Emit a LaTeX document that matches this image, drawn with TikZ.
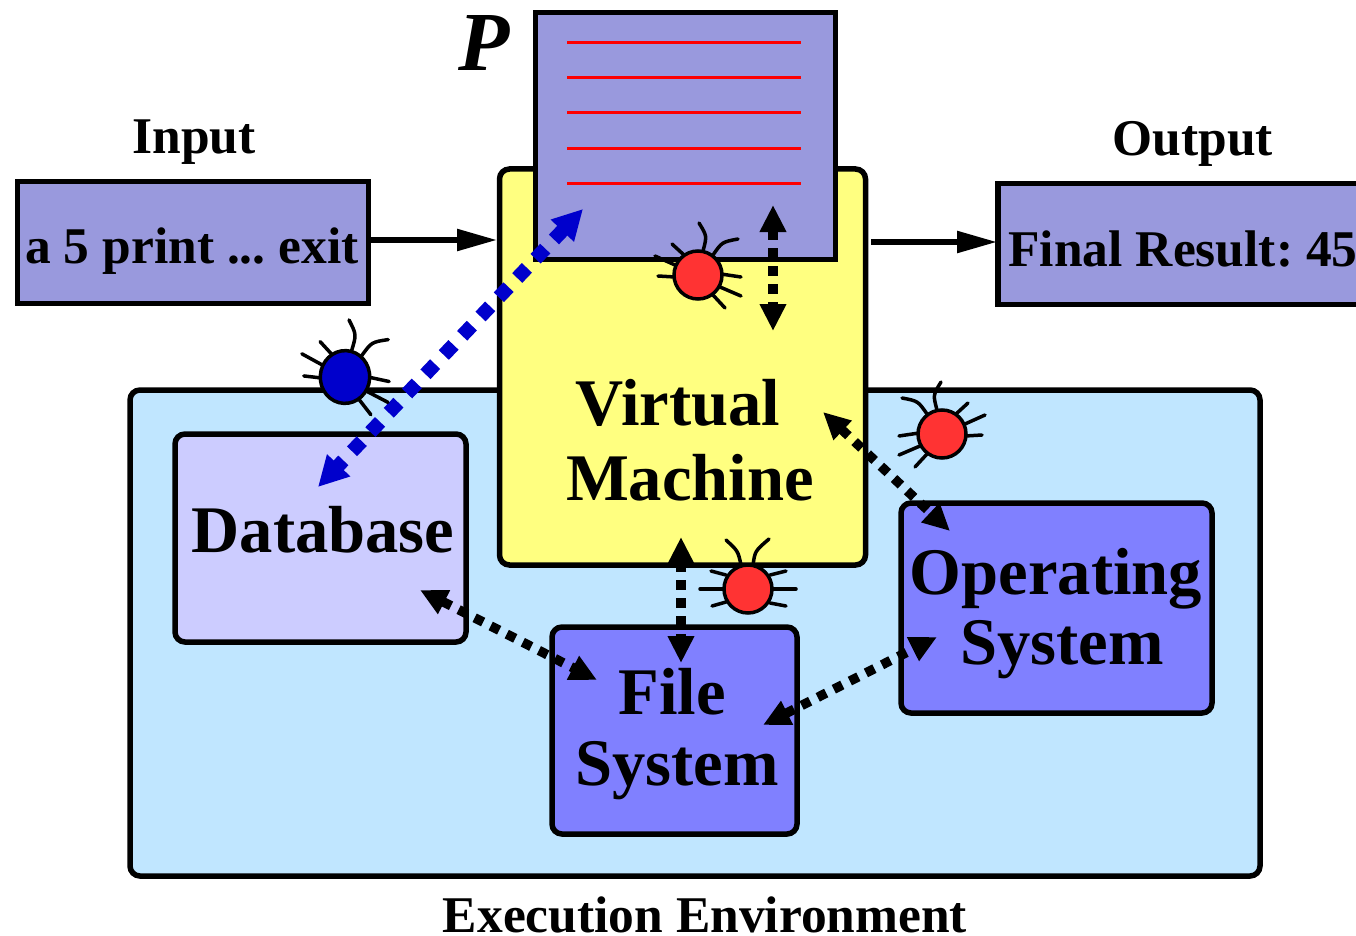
\documentclass[tikz,border=0pt]{standalone}
\usepackage{fontspec}
\setmainfont{Liberation Serif}
\usetikzlibrary{arrows.meta}
\definecolor{pagefill}{HTML}{9999DD}
\definecolor{vmfill}{HTML}{FFFF80}
\definecolor{envfill}{HTML}{C0E6FF}
\definecolor{dbfill}{HTML}{CCCCFF}
\definecolor{sysfill}{HTML}{8080FF}
\definecolor{bugred}{HTML}{FF3333}
\definecolor{bugblue}{HTML}{0000CC}
\frenchspacing
\tikzset{
  box/.style={draw=black,line width=5.5pt,inner sep=0pt,outer sep=0pt,anchor=north west},
  rbox/.style={box,rounded corners=10pt},
  lbl/.style={inner sep=0pt,outer sep=0pt,anchor=base,font=\bfseries},
  big/.style={lbl,font=\fontsize{66.6}{66.6}\selectfont\bfseries},
  mid/.style={lbl,font=\fontsize{51.5}{51.5}\selectfont\bfseries},
  small/.style={lbl,font=\fontsize{51.5}{51.5}\selectfont\bfseries},
  flow/.style={line width=5.5pt,-{Triangle[length=40pt,width=21pt]}},
  dep/.style={line width=9.5pt,dash pattern=on 9.5pt off 8.5pt,{Triangle[length=27pt,width=25pt]}-{Triangle[length=27pt,width=25pt]}},
  depblue/.style={draw=bugblue,line width=14pt,dash pattern=on 14pt off 12.6pt,{Triangle[length=30pt,width=30pt]}-{Triangle[length=30pt,width=30pt]}},
  redline/.style={draw=red,line width=3pt},
  bugleg/.style={line width=3.5pt,line cap=round},
  pics/buga/.style={code={
    \draw[bugleg] (5,-24) .. controls (9,-39) .. (1,-52);
    \draw[bugleg] (15,-20) .. controls (24,-33) .. (40,-36);
    \draw[bugleg] (23,-1) -- (43,2);
    \draw[bugleg] (22,12) -- (43,21);
    \draw[bugleg] (15,20) -- (27,33);
    \draw[bugleg] (-14,-20) -- (-26,-31);
    \draw[bugleg] (-23,-10) -- (-43,-19);
    \draw[bugleg] (-23,2) -- (-40,1);
    \draw[line width=3.5pt,fill=#1] (0,0) circle[radius=24];
  }},
  pics/bugb/.style={code={
    \draw[bugleg] (-7,-24) .. controls (-10,-38) .. (-22,-49);
    \draw[bugleg] (5,-24) .. controls (7,-38) .. (21,-50);
    \draw[bugleg] (-24,0) -- (-48,0);
    \draw[bugleg] (24,0) -- (48,0);
    \draw[bugleg] (-22,-14) -- (-37,-18);
    \draw[bugleg] (22,-14) -- (38,-18);
    \draw[bugleg] (-22,13) -- (-36,17);
    \draw[bugleg] (22,14) -- (38,17);
    \draw[line width=3.5pt,fill=#1] (0,0) circle[radius=24];
  }}
}
\begin{document}
\begin{tikzpicture}[x=1pt,y=-1pt]
\useasboundingbox (0,0) rectangle (1356,936);
\clip (0,0) rectangle (1356,936);
% boxes
\node[rbox,fill=envfill,minimum width=1130pt,minimum height=486pt] (env) at (130,390) {};
\node[rbox,fill=vmfill,minimum width=366pt,minimum height=396pt] (vm) at (499.5,169) {};
\node[rbox,fill=dbfill,minimum width=291pt,minimum height=208pt] (db) at (175,434) {};
\node[rbox,fill=sysfill,minimum width=245pt,minimum height=207pt] (fs) at (552,627) {};
\node[rbox,fill=sysfill,minimum width=311pt,minimum height=210pt] (os) at (901,503) {};
\node[box,fill=pagefill,minimum width=300pt,minimum height=247pt] (page) at (535.5,12.5) {};
\node[box,fill=pagefill,minimum width=351pt,minimum height=122pt] (input) at (17.5,181.5) {};
\node[box,fill=pagefill,minimum width=380pt,minimum height=121pt] (output) at (998,183.5) {};
% program lines
\foreach \n/\y in {a/43,b/78,c/113,d/149,e/184}{
  \coordinate (l\n) at (567,\y);
  \coordinate (r\n) at (801,\y);
  \draw[redline] (l\n) -- (r\n);
}
% labels
\node[mid] (tinput) at (194,154) {Input};
\node[mid] (toutput) at (1193,156) {Output};
\node[small] (tin) at (192,263) {a 5 print ... exit};
\node[small] (tout) at (1183,266) {Final Result: 45};
\node[lbl,font=\fontsize{84}{84}\selectfont\bfseries\itshape] (tp) at (484,71) {P};
\node[big] (tv) at (678,425) {Virtual};
\node[big] (tm) at (690,500) {Machine};
\node[big] (tdb) at (323,552) {Database};
\node[big] (tf) at (672,714) {File};
\node[big] (ts) at (677,785) {System};
\node[big] (top) at (1056,594) {Operating};
\node[big] (tos) at (1062,664) {System};
\node[mid] (tenv) at (705,932) {Execution Environment};
% connector ends
\coordinate (inA) at (370,240);
\coordinate (inB) at (497,240);
\coordinate (outA) at (871,242);
\coordinate (outB) at (997,242);
\coordinate (pv1) at (773,205);
\coordinate (pv2) at (773,331);
\coordinate (vo1) at (823,412);
\coordinate (vo2) at (950,531);
\coordinate (vf1) at (681,537);
\coordinate (vf2) at (681,663);
\coordinate (df1) at (420,590);
\coordinate (df2) at (597,680);
\coordinate (fo1) at (763,725);
\coordinate (fo2) at (937,637);
\coordinate (bl1) at (583,209);
\coordinate (bl2) at (318,487);
% connectors
\draw[flow] (inA) -- (inB);
\draw[flow] (outA) -- (outB);
\draw[dep] (pv1) -- (pv2);
\draw[dep] (vo1) -- (vo2);
\draw[dep] (vf1) -- (vf2);
\draw[dep] (df1) -- (df2);
\draw[dep] (fo1) -- (fo2);
\draw[depblue] (bl1) -- (bl2);
% bugs
\pic at (698,275) {buga=bugred};
\pic[rotate=-3,xscale=1.03,yscale=1.1] at (345,377) {buga=bugblue};
\pic[xscale=-1] at (942,434) {buga=bugred};
\pic at (748,589) {bugb=bugred};
\end{tikzpicture}
\end{document}
